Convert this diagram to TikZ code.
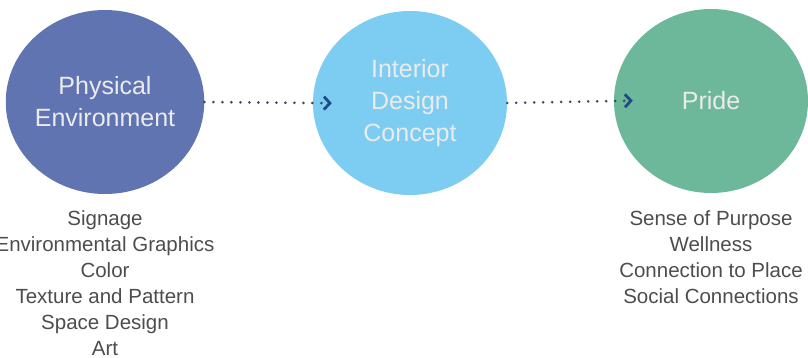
\documentclass[tikz,border=0pt]{standalone}
\usepackage{fontspec}
\setmainfont{Liberation Sans}
\usepackage{tikz}
\usetikzlibrary{positioning,arrows.meta,shapes.geometric}
\usepackage{xcolor}

\definecolor{physblue}{HTML}{6074B1}
\definecolor{skyblue}{HTML}{7DCDF3}
\definecolor{pridegreen}{HTML}{6DB89B}
\definecolor{dotgray}{HTML}{3A465F}
\definecolor{tipnavy}{HTML}{1F4A86}
\definecolor{listgray}{HTML}{4D4D4D}

\begin{document}
\begin{tikzpicture}[x=1pt, y=-1pt,
    stage/.style={ellipse, draw=none, minimum width=194pt, minimum height=184pt,
        inner sep=0pt, align=center, text=white!92!black,
        font=\fontsize{25}{32}\selectfont},
    itemlist/.style={inner sep=0pt, align=center, text=listgray,
        font=\fontsize{20.5}{26}\selectfont},
    flow/.style={dotgray, line width=2.9pt, line cap=round, dash pattern=on 0pt off 9pt,
        shorten >=-19pt,
        -{Straight Barb[length=6pt, width=13pt, line width=2.8pt, color=tipnavy]}}]

    \useasboundingbox (0,0) rectangle (808,358);

    % --- STAGES ---
    \node[stage, fill=physblue] (phys) at (105,102) {Physical\\Environment};
    \node[stage, fill=skyblue] (idc) at (410,103) {Interior\\Design\\Concept};
    \node[stage, fill=pridegreen] (pride) at (711,101) {Pride};

    % --- FLOW ---
    \draw[flow] (phys.east) -- (idc.west);
    \draw[flow] (idc.east) -- (pride.west);

    % --- LISTS ---
    \node[itemlist, below=16pt of phys] (physlist) {Signage\\Environmental Graphics\\Color\\Texture and Pattern\\Space Design\\Art};
    \node[itemlist, below=17pt of pride] (pridelist) {Sense of Purpose\\Wellness\\Connection to Place\\Social Connections};

\end{tikzpicture}
\end{document}
